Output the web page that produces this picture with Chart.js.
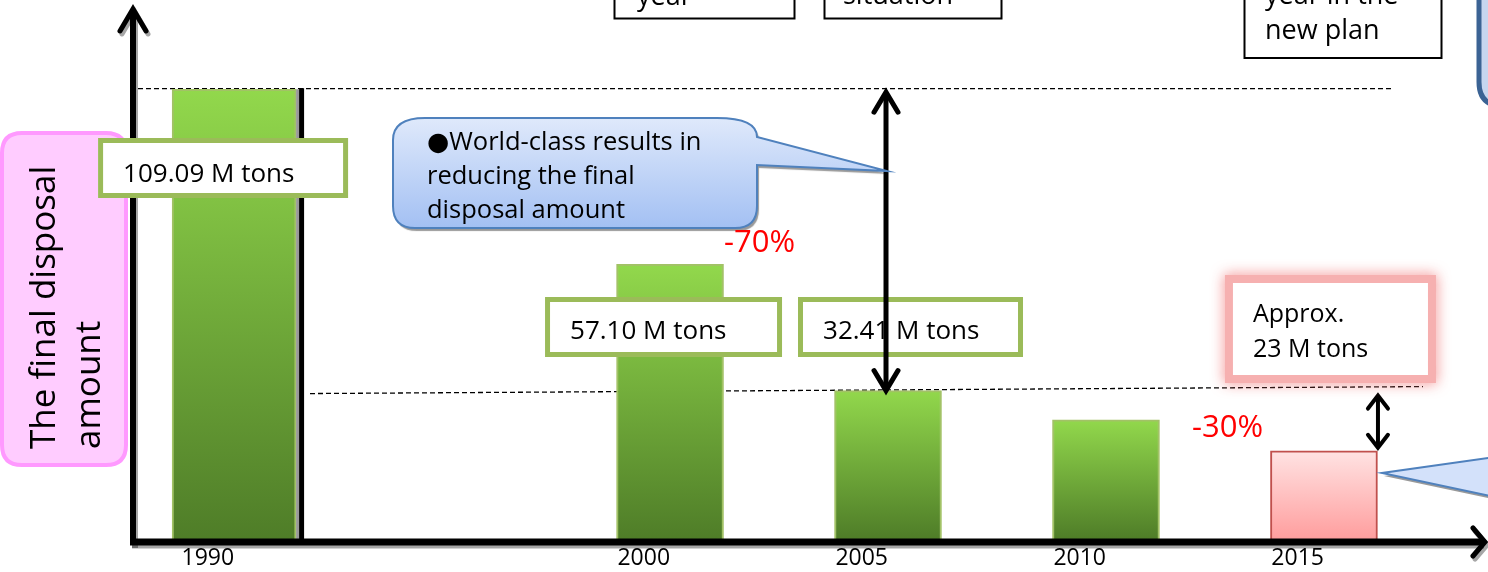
<!DOCTYPE html>
<html>
<head>
<meta charset="utf-8">
<script src="https://cdn.jsdelivr.net/npm/chart.js@4.4.0/dist/chart.umd.min.js"></script>
<style>html,body{margin:0;padding:0;background:#fff;overflow:hidden}</style>
</head>
<body>
<canvas id="c" width="1488" height="572" style="display:block;width:1488px;height:572px"></canvas>
<script>
// ---- data ----
const years = [1990, 2000, 2005, 2010, 2015];
const tickLabels = ['1990', '2000', '2005', '2010', '2015'];
// bar heights as drawn (schematic, same units as 109.09 for 1990)
const finalDisposal = [109.09, 66.6, 36.0, 28.9, 21.4];
const amountLabels = ['109.09 M tons', '57.10 M tons', '32.41 M tons'];
const targetLabel = ['Approx.', '23 M tons'];
const reductionLabels = ['-70%', '-30%'];
const axisTitle = ['The final disposal', 'amount'];
const calloutLines = ['\u25CFWorld-class results in', 'reducing the final', 'disposal amount'];
const topBoxLabels = [['year'], ['situation'], ['year in the', 'new plan']];

const FONT = '"Open Sans", "DejaVu Sans", sans-serif';
const f = (sz) => sz + 'px ' + FONT;

function pts(ids) { return ids.map(i => ({ x: years[i], y: finalDisposal[i] })); }
function grad(top, bottom) {
  return (c) => {
    const ch = c.chart;
    if (!ch.chartArea || !c.raw) return top;
    const ys = ch.scales.y;
    const y0 = ys.getPixelForValue(c.raw.y), y1 = ys.getPixelForValue(0);
    const g = ch.ctx.createLinearGradient(0, y0, 0, y1);
    g.addColorStop(0, top); g.addColorStop(1, bottom);
    return g;
  };
}

function rr(ctx, x, y, w, h, r) {
  ctx.beginPath();
  ctx.moveTo(x + r, y); ctx.lineTo(x + w - r, y);
  ctx.quadraticCurveTo(x + w, y, x + w, y + r);
  ctx.lineTo(x + w, y + h - r);
  ctx.quadraticCurveTo(x + w, y + h, x + w - r, y + h);
  ctx.lineTo(x + r, y + h);
  ctx.quadraticCurveTo(x, y + h, x, y + h - r);
  ctx.lineTo(x, y + r);
  ctx.quadraticCurveTo(x, y, x + r, y);
  ctx.closePath();
}
function textLines(ctx, lines, x, y, lh, sz, color) {
  ctx.font = f(sz); ctx.fillStyle = color || '#000';
  ctx.textAlign = 'left'; ctx.textBaseline = 'alphabetic';
  lines.forEach((t, i) => ctx.fillText(t, x, y + i * lh));
}
function valueBox(ctx, left, top, w, h, text, tx, ty) {
  ctx.fillStyle = '#fff';
  ctx.fillRect(left, top, w, h);
  ctx.strokeStyle = '#9bbb59'; ctx.lineWidth = 5;
  ctx.strokeRect(left + 2.5, top + 2.5, w - 5, h - 5);
  textLines(ctx, [text], tx, ty, 0, 26);
}
function dblArrow(ctx, x, y1, y2, hw, hd, lw) {
  ctx.strokeStyle = '#000'; ctx.lineWidth = lw; ctx.lineCap = 'butt';
  ctx.beginPath(); ctx.moveTo(x, y1 + 2); ctx.lineTo(x, y2 - 2); ctx.stroke();
  ctx.lineCap = 'round'; ctx.lineJoin = 'miter';
  ctx.beginPath(); ctx.moveTo(x - hw, y1 + hd); ctx.lineTo(x, y1); ctx.lineTo(x + hw, y1 + hd); ctx.stroke();
  ctx.beginPath(); ctx.moveTo(x - hw, y2 - hd); ctx.lineTo(x, y2); ctx.lineTo(x + hw, y2 - hd); ctx.stroke();
}

const deco = {
  id: 'deco',
  beforeDatasetsDraw(chart) {
    const ctx = chart.ctx, xs = chart.scales.x, ys = chart.scales.y;
    ctx.save();
    // axis title box
    rr(ctx, 2, 133, 124, 332, 20);
    ctx.fillStyle = '#ffccff'; ctx.fill();
    ctx.strokeStyle = '#ff99ff'; ctx.lineWidth = 4; ctx.stroke();
    ctx.save();
    ctx.translate(55, 449); ctx.rotate(-Math.PI / 2);
    textLines(ctx, axisTitle, 0, 0, 45, 35);
    ctx.restore();

    // top boxes (cut off by the top edge)
    ctx.strokeStyle = '#000'; ctx.lineWidth = 2;
    ctx.strokeRect(614.5, -10, 180, 28.5);
    textLines(ctx, topBoxLabels[0], 637, 5, 35, 27);
    ctx.strokeStyle = '#000'; ctx.lineWidth = 2;
    ctx.strokeRect(824.5, -10, 177, 28.5);
    textLines(ctx, topBoxLabels[1], 843, 4, 35, 27);
    ctx.strokeStyle = '#000'; ctx.lineWidth = 2;
    ctx.strokeRect(1244.5, -30, 197, 88);
    textLines(ctx, topBoxLabels[2], 1265, 4, 35, 27);

    // top-right blue box
    ctx.beginPath();
    ctx.moveTo(1479, -10); ctx.lineTo(1479, 82);
    ctx.quadraticCurveTo(1479, 106, 1503, 106);
    ctx.lineTo(1503, -10); ctx.closePath();
    ctx.fillStyle = '#c6d6ef'; ctx.fill();
    ctx.strokeStyle = '#3b6394'; ctx.lineWidth = 5; ctx.stroke();

    // dashed reference lines
    const yTop = ys.getPixelForValue(finalDisposal[0]);
    const y05 = ys.getPixelForValue(finalDisposal[2]);
    ctx.strokeStyle = '#000'; ctx.lineWidth = 1.3; ctx.setLineDash([5, 3]);
    ctx.beginPath(); ctx.moveTo(138, yTop - 0.5); ctx.lineTo(1392, yTop - 0.5); ctx.stroke();
    ctx.beginPath(); ctx.moveTo(310, y05 + 3); ctx.lineTo(1423, y05 - 4); ctx.stroke();
    ctx.setLineDash([]);
    ctx.restore();
  },
  afterDatasetsDraw(chart) {
    const ctx = chart.ctx, xs = chart.scales.x, ys = chart.scales.y;
    const cx = years.map(y => xs.getPixelForValue(y));
    const top = finalDisposal.map(v => ys.getPixelForValue(v));
    const base = ys.getPixelForValue(0);
    ctx.save();

    // black vertical line right of 1990 bar
    ctx.fillStyle = '#999';
    ctx.fillRect(cx[0] + 62, top[0], 3, base - top[0]);
    ctx.fillStyle = '#000';
    ctx.fillRect(cx[0] + 65, top[0] - 1, 5, base - top[0] + 6);

    // axes with arrows
    ctx.save();
    ctx.shadowColor = 'rgba(0,0,0,0.35)'; ctx.shadowOffsetX = 2; ctx.shadowOffsetY = 3;
    ctx.strokeStyle = '#000';
    ctx.lineWidth = 6; ctx.lineCap = 'butt';
    ctx.beginPath(); ctx.moveTo(133, 545); ctx.lineTo(133, 12); ctx.stroke();
    ctx.lineWidth = 5; ctx.lineCap = 'round'; ctx.lineJoin = 'miter';
    ctx.beginPath(); ctx.moveTo(120, 31); ctx.lineTo(133, 9); ctx.lineTo(146, 31); ctx.stroke();
    ctx.lineWidth = 7; ctx.lineCap = 'butt';
    ctx.beginPath(); ctx.moveTo(130, 542); ctx.lineTo(1482, 542); ctx.stroke();
    ctx.lineWidth = 5; ctx.lineCap = 'round';
    ctx.beginPath(); ctx.moveTo(1473, 528); ctx.lineTo(1485, 542); ctx.lineTo(1473, 556); ctx.stroke();
    ctx.restore();

    // value boxes
    valueBox(ctx, cx[0] - 136, 138, 250, 60, amountLabels[0], cx[0] - 111, 182);
    valueBox(ctx, cx[1] - 125, 297, 237, 60, amountLabels[1], cx[1] - 100, 339);
    valueBox(ctx, cx[2] - 90, 297, 225, 60, amountLabels[2], cx[2] - 65, 339);

    // double arrows
    dblArrow(ctx, cx[2] - 2, top[0] + 3, top[2], 12, 20, 5);
    dblArrow(ctx, cx[4] + 54, top[2] + 5, top[4] - 3, 10, 13, 4);

    // callout bubble
    ctx.save();
    const L = 393, T = 118, R = 757, B = 228, r = 22;
    ctx.beginPath();
    ctx.moveTo(L + r + 10, T);
    ctx.lineTo(R - 40, T);
    ctx.quadraticCurveTo(R, T, R, T + 19);
    ctx.lineTo(cx[2] - 1, 171);
    ctx.lineTo(R, 165);
    ctx.lineTo(R, B - r);
    ctx.quadraticCurveTo(R, B, R - r, B);
    ctx.lineTo(L + r, B);
    ctx.quadraticCurveTo(L, B, L, B - r);
    ctx.lineTo(L, T + r);
    ctx.quadraticCurveTo(L, T, L + r + 10, T);
    ctx.closePath();
    const g = ctx.createLinearGradient(0, T, 0, B);
    g.addColorStop(0, '#dfe9fb'); g.addColorStop(1, '#a3c0f3');
    ctx.shadowColor = 'rgba(0,0,0,0.4)'; ctx.shadowOffsetX = 2; ctx.shadowOffsetY = 3; ctx.shadowBlur = 1;
    ctx.fillStyle = g; ctx.fill();
    ctx.shadowColor = 'transparent';
    ctx.strokeStyle = '#4f81bd'; ctx.lineWidth = 2; ctx.stroke();
    ctx.restore();
    textLines(ctx, calloutLines, 427, 150, 34, 25.5);

    // percentage labels
    textLines(ctx, [reductionLabels[0]], 724, 252, 0, 31, '#ff0000');
    textLines(ctx, [reductionLabels[1]], 1192, 437, 0, 31, '#ff0000');

    // target box with glow
    ctx.save();
    const bl = cx[4] - 91, bt = 283, bw = 195, bh = 92;
    ctx.shadowColor = 'rgba(240,110,110,0.9)'; ctx.shadowBlur = 14;
    ctx.strokeStyle = '#f6b0b0'; ctx.lineWidth = 8;
    ctx.strokeRect(bl - 4, bt - 4, bw + 8, bh + 8);
    ctx.shadowColor = 'transparent';
    ctx.fillStyle = '#fff'; ctx.fillRect(bl, bt, bw, bh);
    ctx.restore();
    textLines(ctx, targetLabel, cx[4] - 71, 322, 35, 25);

    // bottom-right callout pointer
    ctx.save();
    ctx.beginPath();
    ctx.moveTo(1495, 457); ctx.lineTo(cx[4] + 58, 473); ctx.lineTo(1495, 497); ctx.closePath();
    ctx.shadowColor = 'rgba(0,0,0,0.4)'; ctx.shadowOffsetX = 2; ctx.shadowOffsetY = 3;
    ctx.fillStyle = '#d3e1fa'; ctx.fill();
    ctx.shadowColor = 'transparent';
    ctx.strokeStyle = '#4f81bd'; ctx.lineWidth = 2; ctx.stroke();
    ctx.restore();

    ctx.restore();
  }
};

new Chart(document.getElementById('c'), {
  type: 'bar',
  data: {
    datasets: [
      { label: '1990', data: pts([0]), grouped: false, barThickness: 124,
        backgroundColor: grad('#92d84c', '#4f7d28'), borderColor: '#a2c266', borderWidth: 2 },
      { label: 'Final disposal amount', data: pts([1, 2, 3]), grouped: false, barThickness: 107,
        backgroundColor: grad('#92d84c', '#4f7d28'), borderColor: '#a2c266', borderWidth: 2 },
      { label: 'Target', data: pts([4]), grouped: false, barThickness: 107,
        backgroundColor: grad('#ffe3e3', '#ff9e9e'), borderColor: '#c0504d', borderWidth: 2 }
    ]
  },
  options: {
    responsive: false,
    animation: false,
    devicePixelRatio: 1,
    layout: { padding: { left: 136, right: 18, top: 3, bottom: -6.6 } },
    plugins: { legend: { display: false }, tooltip: { enabled: false } },
    scales: {
      x: {
        type: 'linear', min: 1987.75, max: 2018.35, offset: false,
        grid: { display: false, drawTicks: false, offset: false }, border: { display: false },
        afterBuildTicks: (s) => { s.ticks = years.map(v => ({ value: v })); },
        ticks: {
          autoSkip: false, maxRotation: 0, padding: 6, color: '#000', align: 'end',
          font: { family: FONT, size: 23 },
          callback: (v) => { const i = years.indexOf(v); return i >= 0 ? tickLabels[i] : ''; }
        }
      },
      y: { display: false, min: 0, max: 130 }
    }
  },
  plugins: [deco]
});
</script>
</body>
</html>
